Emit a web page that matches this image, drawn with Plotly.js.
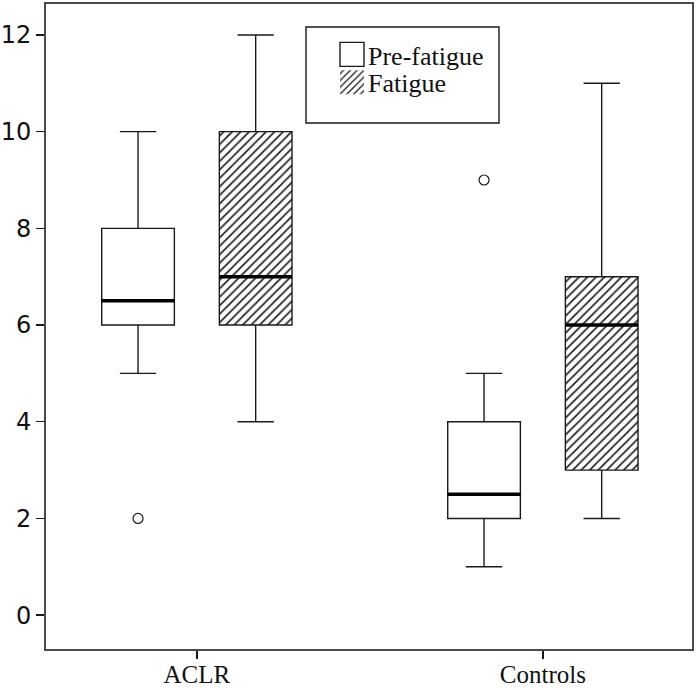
<!DOCTYPE html>
<html>
<head>
<meta charset="utf-8">
<script src="https://cdn.plot.ly/plotly-3.0.1.min.js"></script>
<style>html,body{margin:0;padding:0;background:#fff;}#chart{width:697px;height:690px;}</style>
</head>
<body>
<div id="chart"></div>
<script>
// ---- data ----
const groups = ['ACLR', 'Controls'];
const seriesNames = ['Pre-fatigue', 'Fatigue'];
const preLower  = [5, 1];
const preQ1     = [6, 2];
const preMedian = [6.5, 2.5];
const preQ3     = [8, 4];
const preUpper  = [10, 5];
const fatLower  = [4, 2];
const fatQ1     = [6, 3];
const fatMedian = [7, 6];
const fatQ3     = [10, 7];
const fatUpper  = [12, 11];
const preOutlierGroup = [0, 1];
const preOutlierValue = [2, 9];
const yTicks = [0, 2, 4, 6, 8, 10, 12];

// ---- layout helpers ----
const OFF = 0.17, BW = 0.21;
const idx = groups.map((g, i) => i);
const preX = idx.map(i => i - OFF);
const fatX = idx.map(i => i + OFF);
const INK = '#1a1a1a';
const FRAME = '#4a4a4a';

const traces = [
  { type: 'box', name: seriesNames[0], x: preX, q1: preQ1, median: preMedian, q3: preQ3,
    lowerfence: preLower, upperfence: preUpper, width: BW, whiskerwidth: 0.5,
    boxpoints: false, fillcolor: '#ffffff', line: { color: INK, width: 1.4 },
    hoverinfo: 'skip', showlegend: true },
  { type: 'bar', name: seriesNames[1], x: fatX, base: fatQ1,
    y: fatQ3.map((v, i) => v - fatQ1[i]), width: BW,
    marker: { color: '#ffffff', line: { width: 0 },
      pattern: { shape: '/', size: 6, solidity: 0.28, fgcolor: '#222', bgcolor: '#ffffff' } },
    hoverinfo: 'skip', showlegend: true },
  { type: 'box', name: seriesNames[1] + ' box', x: fatX, q1: fatQ1, median: fatMedian, q3: fatQ3,
    lowerfence: fatLower, upperfence: fatUpper, width: BW, whiskerwidth: 0.5,
    boxpoints: false, fillcolor: 'rgba(0,0,0,0)', line: { color: INK, width: 1.4 },
    hoverinfo: 'skip', showlegend: false },
  // thick median bars
  { type: 'box', x: preX, q1: preMedian, median: preMedian, q3: preMedian,
    lowerfence: preMedian, upperfence: preMedian, width: BW, whiskerwidth: 0,
    boxpoints: false, fillcolor: 'rgba(0,0,0,0)', line: { color: '#000', width: 3.5 },
    hoverinfo: 'skip', showlegend: false },
  { type: 'box', x: fatX, q1: fatMedian, median: fatMedian, q3: fatMedian,
    lowerfence: fatMedian, upperfence: fatMedian, width: BW, whiskerwidth: 0,
    boxpoints: false, fillcolor: 'rgba(0,0,0,0)', line: { color: '#000', width: 3.5 },
    hoverinfo: 'skip', showlegend: false },
  { type: 'scatter', mode: 'markers', x: preOutlierGroup.map(g => g - OFF), y: preOutlierValue,
    marker: { symbol: 'circle-open', size: 10, color: INK, line: { width: 1.2, color: INK } },
    hoverinfo: 'skip', showlegend: false }
];

const L = 46, R = 692, T = 4, B = 649, W = 697, H = 690;
const px = v => (v - L) / (R - L);
const py = v => (B - v) / (B - T);

const layout = {
  width: W, height: H,
  margin: { l: L, r: W - R, t: T, b: H - B, pad: 0 },
  paper_bgcolor: '#ffffff', plot_bgcolor: '#ffffff',
  boxmode: 'overlay', barmode: 'overlay',
  xaxis: {
    range: [-0.436, 1.431], tickvals: idx, ticktext: groups,
    ticks: 'outside', ticklen: 8, tickwidth: 1.4, tickcolor: INK,
    showline: true, mirror: true, linecolor: FRAME, linewidth: 2,
    showgrid: false, zeroline: false, ticklabelstandoff: -6,
    tickfont: { family: 'Liberation Serif, Times New Roman, serif', size: 25, color: '#111' }
  },
  yaxis: {
    range: [-0.70, 12.64], tickvals: yTicks,
    ticks: 'outside', ticklen: 8, tickwidth: 1.4, tickcolor: INK,
    showline: true, mirror: true, linecolor: FRAME, linewidth: 2,
    showgrid: false, zeroline: false,
    tickfont: { family: 'DejaVu Sans, sans-serif', size: 24, color: '#111' }
  },
  legend: {
    x: px(328), y: py(31), xanchor: 'left', yanchor: 'top',
    bgcolor: 'rgba(0,0,0,0)', borderwidth: 0, traceorder: 'normal',
    font: { family: 'Liberation Serif, Times New Roman, serif', size: 26, color: '#111' }
  },
  shapes: [
    { type: 'rect', xref: 'paper', yref: 'paper', x0: px(306), x1: px(499), y0: py(123), y1: py(27),
      line: { color: INK, width: 1.4 }, fillcolor: '#ffffff', layer: 'below' }
  ],
  showlegend: true
};

Plotly.newPlot('chart', traces, layout, { staticPlot: true, displayModeBar: false }).then(gd => {
  // enlarge the legend key squares to match the reference's bigger keys
  gd.querySelectorAll('.legend .legendpoints path').forEach(p => {
    const d = (p.getAttribute('d') || '').replace(/\s/g, '');
    if (d === 'M6,6H-6V-6H6Z') {
      p.setAttribute('d', 'M12,12H-12V-12H12Z');
      p.setAttribute('transform', 'translate(24,0)');
    }
  });
  // tighten the legend rows like the reference
  gd.querySelectorAll('.legend g.traces').forEach((g, i) => {
    const t = g.getAttribute('transform') || '';
    const m = t.match(/translate\(\s*([-\d.]+)[ ,]+([-\d.]+)\s*\)/);
    if (m && i > 0) {
      g.setAttribute('transform', 'translate(' + m[1] + ',' + (parseFloat(m[2]) - 9 * i) + ')');
    }
  });
});
</script>
</body>
</html>
